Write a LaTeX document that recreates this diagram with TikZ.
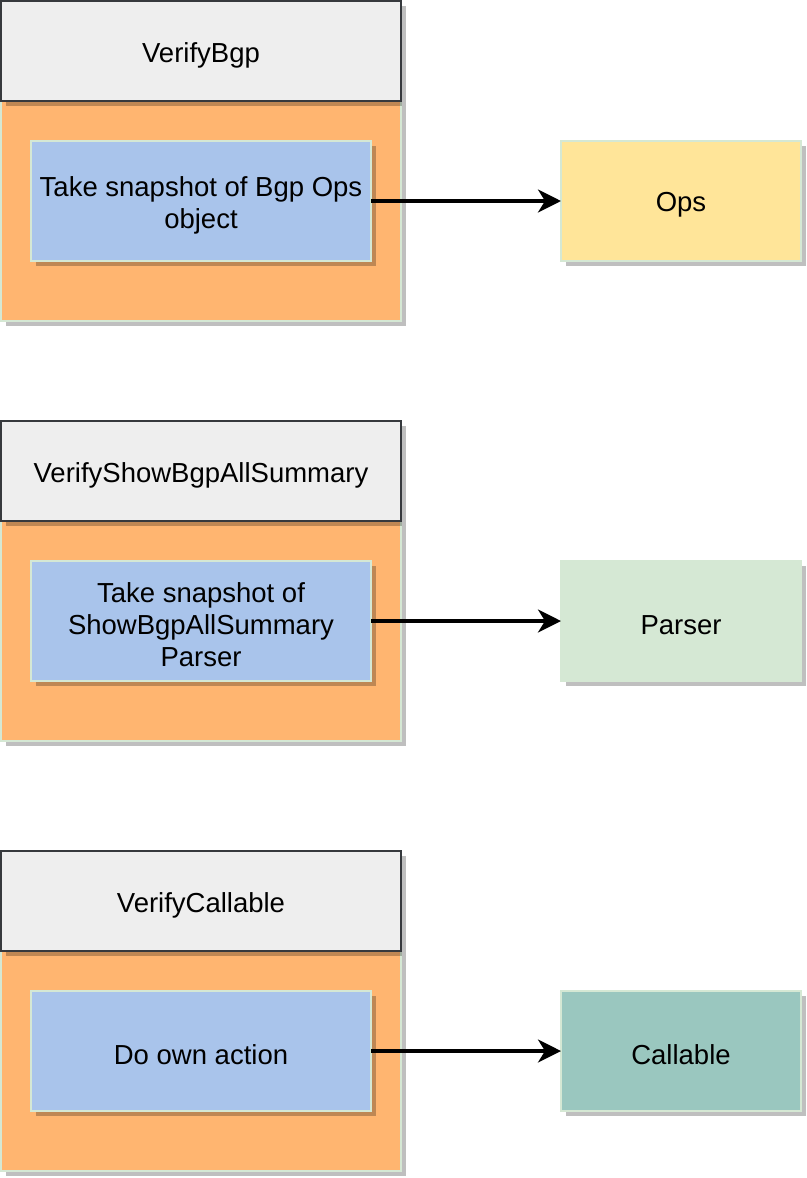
\documentclass[tikz,border=0pt]{standalone}
\usepackage{fontspec}
\setmainfont{Liberation Sans}
\usetikzlibrary{shadows,arrows.meta}
\definecolor{hdrfill}{HTML}{EEEEEE}
\definecolor{hdrdraw}{HTML}{36393D}
\definecolor{bodyfill}{HTML}{FFB570}
\definecolor{lightdraw}{HTML}{D5E8D4}
\definecolor{innerfill}{HTML}{A9C4EB}
\definecolor{opsfill}{HTML}{FFE599}
\definecolor{parserfill}{HTML}{D5E8D4}
\definecolor{callfill}{HTML}{9AC7BF}
\tikzset{
  shad/.style={drop shadow={shadow xshift=5pt,shadow yshift=-5pt,fill=black,opacity=0.25}},
  basebox/.style={rectangle,anchor=north west,inner sep=0pt,outer sep=0pt,shad},
  hdrbox/.style={basebox,fill=hdrfill,draw=hdrdraw,line width=2pt,minimum width=400pt,minimum height=100pt},
  bodybox/.style={basebox,fill=bodyfill,draw=lightdraw,line width=2pt,minimum width=400pt,minimum height=220pt},
  innerbox/.style={basebox,fill=innerfill,draw=lightdraw,line width=2pt,minimum width=340pt,minimum height=120pt},
  sidebox/.style={basebox,draw=lightdraw,line width=2pt,minimum width=240pt,minimum height=120pt},
  lbl/.style={inner sep=0pt,align=center,font=\fontsize{27.5}{32}\selectfont,yshift=-4pt},
  conn/.style={line width=3.5pt,-{Stealth[length=23pt,width=23pt,inset=7pt]}}
}
\begin{document}
\begin{tikzpicture}[x=1pt,y=-1pt]
\useasboundingbox (0,0) rectangle (806,1178);
% group 1
\node[bodybox] (b1) at (1,101) {};
\node[hdrbox] (h1) at (1,1) {};
\node[lbl] (h1t) at (h1.center) {VerifyBgp};
\node[innerbox] (i1) at (31,141) {};
\node[lbl] (i1t) at (i1.center) {Take snapshot of Bgp Ops\\object};
\node[sidebox,fill=opsfill] (s1) at (561,141) {};
\node[lbl] (s1t) at (s1.center) {Ops};
\draw[conn] (i1.east) -- (s1.west);
% group 2
\node[bodybox] (b2) at (1,521) {};
\node[hdrbox] (h2) at (1,421) {};
\node[lbl] (h2t) at (h2.center) {VerifyShowBgpAllSummary};
\node[innerbox] (i2) at (31,561) {};
\node[lbl] (i2t) at (i2.center) {Take snapshot of\\ShowBgpAllSummary\\Parser};
\node[sidebox,fill=parserfill] (s2) at (561,561) {};
\node[lbl] (s2t) at (s2.center) {Parser};
\draw[conn] (i2.east) -- (s2.west);
% group 3
\node[bodybox] (b3) at (1,951) {};
\node[hdrbox] (h3) at (1,851) {};
\node[lbl] (h3t) at (h3.center) {VerifyCallable};
\node[innerbox] (i3) at (31,991) {};
\node[lbl] (i3t) at (i3.center) {Do own action};
\node[sidebox,fill=callfill] (s3) at (561,991) {};
\node[lbl] (s3t) at (s3.center) {Callable};
\draw[conn] (i3.east) -- (s3.west);
\end{tikzpicture}
\end{document}
